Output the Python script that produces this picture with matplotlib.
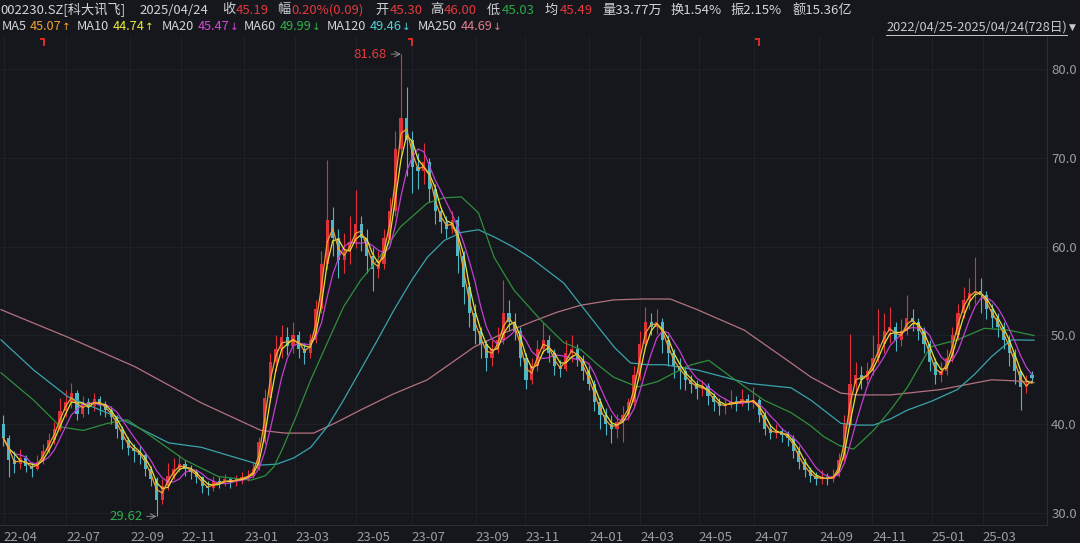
import matplotlib
matplotlib.use("Agg")
import matplotlib.pyplot as plt
import matplotlib.transforms as mtrans
import numpy as np
import pandas as pd

plt.rcParams['font.family'] = ['Noto Sans CJK SC', 'DejaVu Sans']

# ---------------- data (bars of ~4 trading days, index in trading days) ----------------
n_days = 728
bar_days = list(np.arange(182) * 4 + 1.5)

opens = [40.0, 38.5, 36.0, 35.5, 36.2, 35.3, 35.0, 35.8, 37.0, 38.2,
         39.5, 41.5, 42.5, 43.5, 41.2, 42.5, 42.0, 42.8, 42.2, 41.6,
         40.8, 39.5, 38.2, 37.3, 37.0, 36.5, 35.0, 33.8, 31.5, 33.0,
         34.2, 35.0, 35.5, 35.0, 34.6, 34.0, 33.0, 32.8, 33.6, 33.3,
         33.8, 33.5, 33.8, 34.0, 34.2, 35.0, 38.0, 43.0, 47.0, 48.5,
         49.8, 48.8, 50.0, 48.5, 48.0, 49.5, 53.0, 58.0, 63.0, 61.0,
         58.5, 59.5, 60.5, 62.5, 61.0, 59.0, 57.5, 58.0, 61.0, 64.0,
         71.0, 74.5, 72.0, 69.0, 68.5, 69.5, 66.5, 64.0, 62.8, 62.0,
         63.0, 59.0, 55.5, 52.5, 50.5, 49.0, 47.5, 48.5, 49.5, 52.5,
         51.5, 50.5, 47.5, 45.0, 46.5, 48.5, 49.5, 48.0, 46.5, 46.2,
         48.0, 48.5, 47.2, 46.0, 44.5, 42.5, 41.0, 40.0, 39.5, 40.2,
         41.0, 42.5, 45.5, 49.0, 51.5, 51.0, 51.5, 49.5, 48.0, 46.5,
         46.0, 45.0, 44.5, 44.0, 44.3, 43.2, 42.5, 42.0, 42.2, 42.6,
         42.3, 42.8, 42.4, 42.7, 41.0, 39.5, 39.0, 39.2, 38.8, 38.5,
         37.0, 35.8, 34.8, 34.2, 33.8, 34.0, 33.8, 34.2, 36.0, 40.0,
         44.5, 45.5, 45.0, 46.0, 47.5, 49.0, 50.5, 51.0, 49.5, 50.5,
         52.0, 51.5, 50.5, 49.0, 47.0, 45.5, 46.0, 47.5, 50.0, 52.5,
         54.0, 54.8, 55.0, 54.5, 53.0, 52.0, 51.0, 49.5, 48.0, 46.0,
         44.2, 45.5]
closes = [38.5, 36.0, 35.5, 36.2, 35.3, 35.0, 35.8, 37.0, 38.2, 39.5,
          41.5, 42.5, 43.5, 41.2, 42.5, 42.0, 42.8, 42.2, 41.6, 40.8,
          39.5, 38.2, 37.3, 37.0, 36.5, 35.0, 33.8, 31.5, 33.0, 34.2,
          35.0, 35.5, 35.0, 34.6, 34.0, 33.0, 32.8, 33.6, 33.3, 33.8,
          33.5, 33.8, 34.0, 34.2, 35.0, 38.0, 43.0, 47.0, 48.5, 49.8,
          48.8, 50.0, 48.5, 48.0, 49.5, 53.0, 58.0, 63.0, 61.0, 58.5,
          59.5, 60.5, 62.5, 61.0, 59.0, 57.5, 58.0, 61.0, 64.0, 71.0,
          74.5, 72.0, 69.0, 68.5, 69.5, 66.5, 64.0, 62.8, 62.0, 63.0,
          59.0, 55.5, 52.5, 50.5, 49.0, 47.5, 48.5, 49.5, 52.5, 51.5,
          50.5, 47.5, 45.0, 46.5, 48.5, 49.5, 48.0, 46.5, 46.2, 48.0,
          48.5, 47.2, 46.0, 44.5, 42.5, 41.0, 40.0, 39.5, 40.2, 41.0,
          42.5, 45.5, 49.0, 51.5, 51.0, 51.5, 49.5, 48.0, 46.5, 46.0,
          45.0, 44.5, 44.0, 44.3, 43.2, 42.5, 42.0, 42.2, 42.6, 42.3,
          42.8, 42.4, 42.7, 41.0, 39.5, 39.0, 39.2, 38.8, 38.5, 37.0,
          35.8, 34.8, 34.2, 33.8, 34.0, 33.8, 34.2, 36.0, 40.0, 44.5,
          45.5, 45.0, 46.0, 47.5, 49.0, 50.5, 51.0, 49.5, 50.5, 52.0,
          51.5, 50.5, 49.0, 47.0, 45.5, 46.0, 47.5, 50.0, 52.5, 54.0,
          54.8, 55.0, 54.5, 53.0, 52.0, 51.0, 49.5, 48.0, 46.0, 44.2,
          44.5, 45.19]
highs = [41.0, 38.8, 37.0, 37.2, 36.5, 35.8, 36.5, 37.8, 39.0, 40.2,
         43.0, 43.8, 44.6, 43.8, 43.2, 43.0, 43.5, 43.2, 42.6, 42.0,
         41.0, 39.8, 38.6, 37.8, 37.5, 36.8, 35.3, 34.0, 33.8, 35.6,
         36.2, 36.5, 36.0, 35.4, 35.0, 34.2, 33.6, 34.2, 34.0, 34.4,
         34.0, 34.3, 34.6, 34.8, 35.8, 38.6, 44.0, 48.0, 50.0, 51.2,
         51.0, 51.5, 50.5, 49.2, 50.2, 54.0, 59.5, 69.8, 64.5, 62.0,
         61.5, 63.5, 66.4, 63.5, 62.0, 60.0, 59.5, 62.0, 65.5, 73.0,
         81.68, 78.0, 73.0, 70.5, 71.7, 70.0, 67.0, 64.5, 63.5, 64.0,
         63.5, 59.5, 56.0, 53.5, 51.0, 49.5, 49.5, 51.0, 56.2, 54.0,
         52.5, 51.0, 48.0, 47.5, 49.5, 51.5, 50.0, 48.5, 47.2, 49.5,
         50.0, 49.0, 47.8, 46.5, 45.0, 43.0, 41.8, 41.0, 41.2, 42.0,
         43.0, 46.5, 50.5, 53.2, 52.5, 53.0, 52.0, 50.0, 48.5, 47.5,
         46.5, 45.5, 45.0, 45.0, 44.6, 43.5, 43.0, 43.0, 43.8, 43.2,
         44.0, 43.4, 44.2, 43.0, 41.5, 40.0, 40.0, 39.6, 39.2, 38.8,
         37.5, 36.2, 35.2, 34.6, 34.8, 34.5, 35.0, 36.8, 41.0, 50.2,
         47.0, 46.5, 47.0, 50.0, 53.0, 52.5, 53.2, 51.5, 51.8, 54.5,
         53.0, 52.0, 51.0, 49.5, 47.5, 47.0, 48.5, 51.0, 53.5, 55.5,
         56.5, 58.8, 56.5, 55.0, 53.5, 52.5, 51.5, 50.0, 48.5, 46.0,
         45.5, 46.0]
lows = [37.5, 34.0, 34.5, 35.0, 34.6, 34.0, 34.8, 35.5, 36.8, 37.8,
        39.2, 40.8, 41.8, 40.5, 40.8, 41.2, 41.5, 41.0, 40.8, 40.0,
        38.5, 37.2, 36.5, 35.8, 35.5, 34.2, 33.0, 29.62, 31.0, 32.6,
        33.8, 34.6, 34.2, 33.8, 33.4, 32.2, 32.0, 32.5, 32.8, 33.0,
        32.8, 33.0, 33.3, 33.6, 33.9, 34.8, 37.8, 42.5, 46.0, 47.5,
        47.8, 48.0, 47.5, 46.8, 47.5, 49.2, 52.5, 57.5, 59.0, 56.5,
        57.0, 58.0, 59.8, 59.5, 57.0, 55.0, 56.5, 57.5, 60.5, 63.5,
        70.0, 68.0, 66.0, 66.5, 67.0, 65.0, 62.5, 61.5, 61.0, 61.5,
        57.0, 53.5, 51.0, 49.0, 47.5, 46.0, 46.5, 48.0, 49.0, 50.5,
        49.5, 46.5, 44.0, 44.5, 46.0, 48.0, 47.0, 45.5, 45.3, 46.0,
        47.0, 46.5, 45.0, 43.8, 41.5, 39.5, 38.8, 37.9, 38.5, 38.0,
        40.5, 42.0, 45.0, 48.5, 50.0, 50.2, 48.0, 46.5, 45.2, 44.0,
        43.8, 43.5, 42.8, 43.2, 42.2, 41.5, 41.0, 41.2, 41.8, 41.5,
        42.0, 41.6, 41.8, 40.2, 38.8, 38.3, 38.5, 38.0, 37.5, 36.2,
        35.0, 34.0, 33.5, 33.2, 33.3, 33.2, 33.5, 34.0, 35.8, 39.8,
        43.5, 44.0, 44.5, 45.5, 47.0, 48.0, 49.2, 48.2, 48.8, 50.0,
        50.5, 49.5, 48.0, 46.0, 44.5, 44.8, 45.5, 47.0, 49.5, 52.0,
        53.0, 53.5, 52.5, 51.8, 50.8, 49.8, 48.5, 46.5, 44.5, 41.6,
        43.5, 44.8]

# long moving averages (trading-day index, value)
ma60_days = [0, 23, 42, 58, 75, 89, 106, 129, 153, 176, 186, 192, 198, 208, 218, 230, 241,
             253, 265, 281, 300, 312, 324, 336, 347, 361, 380, 396, 408, 420, 431, 448,
             462, 474, 486, 498, 514, 537, 556, 570, 579, 590, 600, 614, 626, 638, 654,
             673, 692, 709, 727]
ma60_vals = [45.8, 42.7, 39.7, 39.3, 40.1, 40.5, 38.6, 36.0, 34.1, 33.7, 34.2, 35.2, 37.2,
             41.0, 45.0, 49.3, 53.2, 56.2, 58.5, 62.2, 64.9, 65.5, 65.6, 63.8, 58.8, 55.1,
             51.7, 49.2, 48.4, 46.7, 45.3, 44.2, 44.8, 45.8, 46.7, 47.2, 45.3, 42.7, 41.3,
             39.8, 38.6, 37.6, 37.2, 39.3, 41.6, 44.2, 48.7, 49.5, 50.8, 50.6, 49.99]
ma120_days = [0, 23, 47, 82, 118, 141, 164, 183, 194, 206, 218, 230, 241, 253, 265, 277,
              289, 300, 312, 324, 336, 347, 360, 373, 396, 420, 432, 443, 455, 467, 490,
              526, 556, 570, 591, 603, 614, 626, 638, 655, 673, 685, 697, 711, 727]
ma120_vals = [49.5, 46.1, 43.1, 40.8, 37.9, 37.4, 36.3, 35.4, 35.5, 36.2, 37.4, 39.8, 42.7,
              46.1, 49.5, 53.0, 56.2, 58.8, 60.7, 61.6, 61.9, 61.1, 60.0, 58.7, 55.9, 51.0,
              48.6, 46.9, 46.7, 46.7, 46.1, 44.6, 44.1, 42.7, 40.1, 39.9, 39.9, 40.6, 41.6,
              42.6, 43.9, 45.6, 47.6, 49.5, 49.46]
ma250_days = [0, 47, 94, 141, 183, 200, 220, 236, 253, 276, 300, 333, 353, 373, 391, 408,
              431, 451, 471, 490, 523, 556, 570, 591, 603, 626, 661, 697, 712, 727]
ma250_vals = [52.9, 49.8, 46.5, 42.4, 39.3, 39.0, 39.0, 40.2, 41.6, 43.4, 45.0, 48.7, 50.2,
              51.5, 52.6, 53.4, 54.0, 54.1, 54.1, 52.9, 50.6, 46.9, 45.3, 43.5, 43.3, 43.3,
              43.9, 45.0, 44.9, 44.69]

tick_days = [2, 46, 91, 127, 171, 207, 250, 289, 334, 369, 414, 450, 491, 530, 576, 613, 655, 691]
tick_labels = ['22-04', '22-07', '22-09', '22-11', '23-01', '23-03', '23-05', '23-07', '23-09',
               '23-11', '24-01', '24-03', '24-05', '24-07', '24-09', '24-11', '25-01', '25-03']
marker_days = [28, 287, 531]
y_ticks = [30, 40, 50, 60, 70, 80]

# ---------------- style ----------------
BG = '#15171c'
GRID = '#1f2228'
AXC = '#9a9ca2'
WHITE = '#d4d4d6'
RED = '#e5383d'
GREEN_T = '#27ad45'
UP = '#e0313b'
DOWN = '#4fb6c6'
C_MA5, C_MA10, C_MA20 = '#f0a030', '#e6e23a', '#c23fd2'
C_MA60, C_MA120, C_MA250 = '#2f8f3c', '#3aa3ab', '#b4727f'

fig = plt.figure(figsize=(10.8, 5.43), dpi=100, facecolor=BG)
ax = fig.add_axes([0, 18 / 543, 1047 / 1080, (525 - 36) / 543])
ax.set_facecolor(BG)

o = np.array(opens); c = np.array(closes); h = np.array(highs); l = np.array(lows)
xd = np.array(bar_days)
up = c >= o
col = np.where(up, UP, DOWN)

ax.vlines(xd, l, h, colors=col, linewidth=0.8, zorder=2)
body_lo = np.minimum(o, c)
body_h = np.maximum(np.abs(c - o), 0.08)
ax.bar(xd, body_h, bottom=body_lo, width=2.2, color=col, linewidth=0, zorder=2)

s = pd.Series(closes)
ma5 = s.rolling(2, min_periods=1).mean()
ma10 = s.rolling(3, min_periods=1).mean()
ma20 = s.rolling(5, min_periods=1).mean()

ax.plot(ma250_days, ma250_vals, color=C_MA250, lw=0.9, zorder=3)
ax.plot(ma120_days, ma120_vals, color=C_MA120, lw=0.9, zorder=3)
ax.plot(ma60_days, ma60_vals, color=C_MA60, lw=0.9, zorder=3)
ax.plot(xd, ma20, color=C_MA20, lw=0.9, zorder=4)
ax.plot(xd, ma10, color=C_MA10, lw=0.9, zorder=4)
ax.plot(xd, ma5, color=C_MA5, lw=0.9, zorder=4)

# extreme annotations
imax = int(np.argmax(h)); imin = int(np.argmin(l))
ax.annotate(f'{h[imax]:.2f}', xy=(xd[imax], h[imax]), xytext=(-14, 0), textcoords='offset pixels',
            ha='right', va='center', color=RED, fontsize=9.5,
            arrowprops=dict(arrowstyle='->', color='#8a8a8a', lw=0.7, shrinkA=1, shrinkB=0))
ax.annotate(f'{l[imin]:.2f}', xy=(xd[imin], l[imin]), xytext=(-14, 0), textcoords='offset pixels',
            ha='right', va='center', color='#2fb04a', fontsize=9.5,
            arrowprops=dict(arrowstyle='->', color='#8a8a8a', lw=0.7, shrinkA=1, shrinkB=0))

# event markers at the top
trans = mtrans.blended_transform_factory(ax.transData, ax.transAxes)
for d in marker_days:
    ax.plot([d, d + 2.2], [0.994, 0.994], color='#e02a2a', lw=1.4, transform=trans, clip_on=False)
    ax.plot([d + 2.2, d + 2.2], [0.994, 0.982], color='#e02a2a', lw=1.4, transform=trans, clip_on=False)

ax.set_xlim(-0.7, 736.1)
ax.set_ylim(28.65, 83.72)

ax.yaxis.tick_right()
ax.set_yticks(y_ticks)
ax.set_yticklabels([f'{v:.1f}' for v in y_ticks])
ax.set_xticks(tick_days)
ax.set_xticklabels(tick_labels, ha='left')
ax.tick_params(axis='y', length=0, pad=3, labelsize=9.5, labelcolor=AXC)
ax.tick_params(axis='x', length=0, pad=4, labelsize=9.5, labelcolor=AXC)
ax.grid(True, color=GRID, lw=0.6)
for sp in ['top', 'left']:
    ax.spines[sp].set_visible(False)
for sp in ['right', 'bottom']:
    ax.spines[sp].set_color('#2b2e35')
    ax.spines[sp].set_linewidth(0.8)

# ---------------- header ----------------
renderer = fig.canvas.get_renderer()


def ftxt(x, y, s, color, size=9.5, family=None, ha='left'):
    kw = {}
    if family:
        kw['family'] = family
    t = fig.text(x / 1080, 1 - y / 543, s, color=color, fontsize=size, ha=ha, va='center', **kw)
    return t.get_window_extent(renderer)


# (x, label, value, value colour)
row1 = [(0, '002230.SZ[科大讯飞]', None, None), (139, '2025/04/24', None, None),
        (222, '收', '45.19', RED), (277, '幅', '0.20%(0.09)', RED), (375, '开', '45.30', RED),
        (430, '高', '46.00', RED), (487, '低', '45.03', GREEN_T), (545, '均', '45.49', RED),
        (602, '量33.77万', None, None), (671, '换1.54%', None, None), (731, '振2.15%', None, None),
        (793, '额15.36亿', None, None)]
for x, lab, val, cc in row1:
    bb = ftxt(x, 10, lab, WHITE)
    if val:
        ftxt(bb.x1 + 1, 10, val, cc)

row2 = [(2, 'MA5', '45.07', '#f0a030', '↑'), (77, 'MA10', '44.74', '#eaea3a', '↑'),
        (162, 'MA20', '45.47', '#d548d8', '↓'), (244, 'MA60', '49.99', '#33b048', '↓'),
        (327, 'MA120', '49.46', '#4fd0d4', '↓'), (418, 'MA250', '44.69', '#e47c8c', '↓')]
for x, lab, val, cc, arr in row2:
    bb = ftxt(x, 27, lab, WHITE, size=9.2)
    bb = ftxt(bb.x1 + 3, 27, val, cc, size=9.2)
    ftxt(bb.x1 + 0.5, 27, arr, cc, size=7.5, family='DejaVu Sans')

bb = ftxt(1067, 27, '2022/04/25-2025/04/24(728日)', '#c8c8ca', size=9.2, ha='right')
ftxt(1069, 27, '▼', '#c8c8ca', 6.5, family='DejaVu Sans')
fig.add_artist(plt.Line2D([bb.x0 / 1080, bb.x1 / 1080], [1 - 35 / 543, 1 - 35 / 543],
                          color='#c8c8ca', lw=0.7))

fig.savefig('out.png', dpi=100, facecolor=BG)
